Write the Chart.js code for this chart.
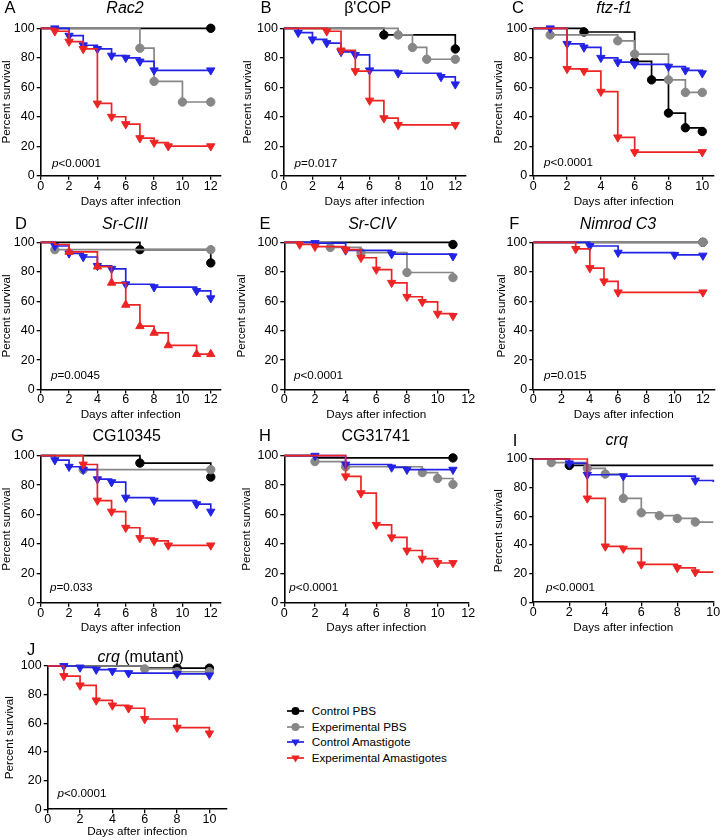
<!DOCTYPE html>
<html>
<head>
<meta charset="utf-8">
<script src="https://cdn.jsdelivr.net/npm/chart.js@4.4.1/dist/chart.umd.min.js"></script>
<style>
  html, body { margin:0; padding:0; background:#fff; }
  #wrap { position:relative; width:720px; height:840px; overflow:hidden; background:#fff; }
  canvas { position:absolute; }
  .lg { position:absolute; font-family:"Liberation Sans", Arial, sans-serif; font-size:11.7px; color:#000; white-space:nowrap; line-height:14px; }
  .lgs { position:absolute; }
</style>
</head>
<body>
<div id="wrap"></div>
<script>
// ---------------- DATA (days, percent survival) ----------------
const seriesNames = ['Control PBS', 'Experimental PBS', 'Control Amastigote', 'Experimental Amastigotes'];
const xTicksStep = 2;
const yTicks = [0, 20, 40, 60, 80, 100];

// A  Rac2
const A_ctrlPBS = [[0,100],[12,100]];
const A_expPBS  = [[0,100],[7,86.5],[8,64],[10,50],[12,50]];
const A_ctrlAma = [[0,100],[1,100],[2,95],[3,88.5],[4,86],[5,81.5],[6,80],[7,77.5],[8,71.5],[12,71.5]];
const A_expAma  = [[0,100],[1,98],[2,91],[3,86],[4,49],[5,40],[6,35],[7,25.5],[8,22.5],[9,20],[12,20]];
// B  β'COP
const B_ctrlPBS = [[0,100],[7,95.5],[12,86]];
const B_expPBS  = [[0,100],[8,95.5],[9,87],[10,79],[12,79]];
const B_ctrlAma = [[0,100],[1,97],[2,92.5],[3,90],[4,84],[5,82],[6,71.5],[8,69.5],[11,67],[12,62]];
const B_expAma  = [[0,100],[3,98],[4,85],[5,71],[6,51],[7,39],[8,34.5],[12,34.5]];
// C  ftz-f1
const C_ctrlPBS = [[0,100],[3,97.5],[6,77.5],[7,65],[8,42.5],[9,32.5],[10,30]];
const C_expPBS  = [[0,100],[1,95.5],[5,91.5],[6,82.5],[8,65],[9,56.5],[10,56.5]];
const C_ctrlAma = [[0,100],[1,100],[2,89.5],[3,87],[4,80],[5,77],[6,75.5],[8,74],[9,71.5],[10,69.5]];
const C_expAma  = [[0,100],[2,72.5],[3,71],[4,57],[5,26],[6,16],[10,16]];
// D  Sr-CIII
const D_ctrlPBS = [[0,100],[7,95],[12,86]];
const D_expPBS  = [[0,100],[1,95],[12,95]];
const D_ctrlAma = [[0,100],[1,97.5],[2,92.5],[3,90],[4,84],[5,82],[6,71.5],[8,69.5],[11,67],[12,62]];
const D_expAma  = [[0,100],[1,98.5],[2,93.5],[4,83.5],[5,72.5],[6,57.5],[7,43],[8,38.5],[9,30],[11,24],[12,24]];
// E  Sr-CIV
const E_ctrlPBS = [[0,100],[11,98.5]];
const E_expPBS  = [[0,100],[3,96.5],[5,93],[8,79.5],[11,76]];
const E_ctrlAma = [[0,100],[2,99.5],[4,94.5],[7,92],[11,90.5]];
const E_expAma  = [[0,100],[1,98.5],[2,97],[4,95],[5,89.5],[6,81.5],[7,72.5],[8,63],[9,59.5],[10,51.5],[11,50]];
// F  Nimrod C3
const F_ctrlPBS = [[0,100],[12,100]];
const F_expPBS  = [[0,100],[12,100]];
const F_ctrlAma = [[0,100],[4,97.5],[6,93],[10,91.5],[12,91]];
const F_expAma  = [[0,100],[3,95.5],[4,82.5],[5,73.5],[6,66],[12,66]];
// G  CG10345
const G_ctrlPBS = [[0,100],[7,95],[12,85.5]];
const G_expPBS  = [[0,100],[3,90.5],[12,90.5]];
const G_ctrlAma = [[0,100],[1,97],[2,92.5],[3,90.5],[4,84],[5,82],[6,71.5],[8,69.5],[11,67],[12,62]];
const G_expAma  = [[0,100],[3,94],[4,69.5],[5,62],[6,51],[7,44],[8,42],[9,39],[12,39]];
// H  CG31741
const H_ctrlPBS = [[0,100],[2,98.5],[11,98.5]];
const H_expPBS  = [[0,100],[2,96],[4,92.5],[9,88.5],[10,84.5],[11,80.5]];
const H_ctrlAma = [[0,100],[2,100],[4,94],[7,92],[8,90.5],[11,90.5]];
const H_expAma  = [[0,100],[4,86],[5,74.5],[6,53],[7,44.5],[8,35.5],[9,30],[10,27],[11,27]];
// I  crq
const I_ctrlPBS = [[0,100],[2,95.5],[10,95.5]];
const I_expPBS  = [[0,100],[1,97.5],[3,93.5],[4,89.5],[5,72.5],[6,62.5],[7,60.5],[8,58.5],[9,56],[10,56]];
const I_ctrlAma = [[0,100],[2,97],[3,89],[5,88],[9,85],[10,84]];
const I_expAma  = [[0,100],[3,72.5],[4,39],[5,37.5],[6,26.5],[8,24],[9,21],[10,21]];
// J  crq (mutant)
const J_ctrlPBS = [[0,100],[6,98.5],[8,98.5],[10,98.5]];
const J_expPBS  = [[0,100],[6,98],[8,96],[10,96]];
const J_ctrlAma = [[0,100],[1,100],[2,99],[3,97.5],[4,96.5],[5,95],[8,94.5],[10,93.5]];
const J_expAma  = [[0,100],[1,93],[2,86.5],[3,76],[4,72.5],[5,70.5],[6,63],[8,57],[10,53]];

const pValues = { A:'<0.0001', B:'=0.017', C:'<0.0001', D:'=0.0045', E:'<0.0001', F:'=0.015', G:'=0.033', H:'<0.0001', I:'<0.0001', J:'<0.0001' };

// ---------------- STYLE / LAYOUT ----------------
const FONT = '"Liberation Sans", Arial, Helvetica, sans-serif';
Chart.defaults.font.family = FONT;
Chart.defaults.color = '#000';
const COLORS = ['#000000', '#878787', '#2323e6', '#ee2424'];

// hidden markers (series index -> data indices)
const hideMarks = { D:{3:[1]}, H:{0:[1]}, I:{0:[2],1:[9],2:[5],3:[7]}, J:{0:[1]} };

const panels = [
  { id:'A', data:[A_ctrlPBS,A_expPBS,A_ctrlAma,A_expAma], title:[['Rac2',true]],
    cl:0, ct:0, cr:235, cb:208.6, pl:40.7, pt:28.3, pr:220.7, pb:175.7, xmax:12.7, xtMax:12,
    letter:[10,8], titleXY:[125,8.5], pOff:[11.3,11.7] },
  { id:'B', data:[B_ctrlPBS,B_expPBS,B_ctrlAma,B_expAma], title:[["β'COP",false]],
    cl:241.4, ct:0, cr:478, cb:208.6, pl:284.3, pt:28.3, pr:465.7, pb:175.7, xmax:12.7, xtMax:12,
    letter:[266.5,8], titleXY:[368,8.5], pOff:[10.7,11.7] },
  { id:'C', data:[C_ctrlPBS,C_expPBS,C_ctrlAma,C_expAma], title:[['ftz-f1',true]],
    cl:492, ct:0, cr:720, cb:208.6, pl:533.3, pt:28.3, pr:714.1, pb:175.7, xmax:10.7, xtMax:10,
    letter:[518,8], titleXY:[614,8.5], pOff:[10.7,12.7] },
  { id:'D', data:[D_ctrlPBS,D_expPBS,D_ctrlAma,D_expAma], title:[['Sr-CIII',true]], upRed:true,
    cl:0, ct:212, cr:235, cb:421.9, pl:40.7, pt:242.3, pr:220.7, pb:389.5, xmax:12.7, xtMax:12,
    letter:[21,224.5], titleXY:[125,225], pOff:[10.3,13.5] },
  { id:'E', data:[E_ctrlPBS,E_expPBS,E_ctrlAma,E_expAma], title:[['Sr-CIV',true]],
    cl:235, ct:212, cr:485, cb:421.9, pl:284.3, pt:242.3, pr:468.3, pb:389.5, xmax:12, xtMax:12,
    letter:[265,224.5], titleXY:[372,225], pOff:[9.7,13.5] },
  { id:'F', data:[F_ctrlPBS,F_expPBS,F_ctrlAma,F_expAma], title:[['Nimrod C3',true]],
    cl:495, ct:212, cr:720, cb:421.9, pl:533.3, pt:242.3, pr:714.7, pb:389.5, xmax:12.8, xtMax:12,
    letter:[514.3,224.5], titleXY:[618,225], pOff:[10.7,13.5] },
  { id:'G', data:[G_ctrlPBS,G_expPBS,G_ctrlAma,G_expAma], title:[['CG10345',false]],
    cl:0, ct:425, cr:235, cb:635.2, pl:40.7, pt:455.7, pr:220.7, pb:602.7, xmax:12.7, xtMax:12,
    letter:[17.5,436.7], titleXY:[126.7,437], pOff:[9.3,14.7] },
  { id:'H', data:[H_ctrlPBS,H_expPBS,H_ctrlAma,H_expAma], title:[['CG31741',false]],
    cl:240, ct:425, cr:485, cb:635.2, pl:284.3, pt:455.7, pr:468.3, pb:602.7, xmax:12, xtMax:12,
    letter:[265,436.7], titleXY:[375.8,437], pOff:[5,14.7] },
  { id:'I', data:[I_ctrlPBS,I_expPBS,I_ctrlAma,I_expAma], title:[['crq',true]],
    cl:492, ct:425, cr:720, cb:635.2, pl:533.3, pt:459, pr:713.3, pb:602.3, xmax:10, xtMax:10,
    letter:[515,441.5], titleXY:[616.7,441], pOff:[12.7,14.3] },
  { id:'J', data:[J_ctrlPBS,J_expPBS,J_ctrlAma,J_expAma], title:[['crq',true],[' (mutant)',false]],
    cl:3, ct:638, cr:240, cb:838.6, pl:47.7, pt:666, pr:226.7, pb:809.3, xmax:11.07, xtMax:10,
    letter:[31,650], titleXY:[140.7,657.5], pOff:[9.7,16] }
];

const panelText = {
  id:'panelText',
  afterDraw(chart, args, o) {
    const ctx = chart.ctx; const p = o.p;
    ctx.save();
    ctx.fillStyle = '#000';
    ctx.textBaseline = 'middle';
    // letter
    ctx.font = '16.5px ' + FONT;
    ctx.textAlign = 'center';
    ctx.fillText(p.id, p.letter[0] - p.cl, p.letter[1] - p.ct);
    // title
    ctx.textAlign = 'left';
    let total = 0;
    const widths = p.title.map(([t, it]) => { ctx.font = (it ? 'italic ' : '') + '16px ' + FONT; const w = ctx.measureText(t).width; total += w; return w; });
    let x = p.titleXY[0] - p.cl - total / 2;
    p.title.forEach(([t, it], i) => { ctx.font = (it ? 'italic ' : '') + '16px ' + FONT; ctx.fillText(t, x, p.titleXY[1] - p.ct); x += widths[i]; });
    // p-value
    const a = chart.chartArea;
    let px = a.left + p.pOff[0], py = a.bottom - p.pOff[1];
    ctx.font = 'italic 11.7px ' + FONT;
    ctx.fillText('p', px, py);
    px += ctx.measureText('p').width;
    ctx.font = '11.7px ' + FONT;
    ctx.fillText(pValues[p.id], px, py);
    ctx.restore();
  }
};

const wrap = document.getElementById('wrap');

panels.forEach(p => {
  const w = p.cr - p.cl, h = p.cb - p.ct;
  const W = Math.round(w), H = Math.round(h);
  const cv = document.createElement('canvas');
  cv.width = W; cv.height = H;
  cv.style.left = p.cl + 'px'; cv.style.top = p.ct + 'px';
  cv.style.width = W + 'px'; cv.style.height = H + 'px';
  wrap.appendChild(cv);
  const hide = hideMarks[p.id] || {};
  const datasets = p.data.map((arr, si) => {
    const tri = si >= 2;
    const up = (si === 3 && p.upRed);
    return {
      label: seriesNames[si],
      data: arr.map(([x, y]) => ({ x, y })),
      borderColor: COLORS[si],
      backgroundColor: COLORS[si],
      pointBackgroundColor: COLORS[si],
      pointBorderColor: COLORS[si],
      borderWidth: 1.7,
      pointBorderWidth: 1,
      pointStyle: tri ? 'triangle' : 'circle',
      rotation: tri && !up ? 180 : 0,
      pointRadius: (c) => (c.dataIndex === 0 || (hide[si] || []).includes(c.dataIndex)) ? 0 : (tri ? 4.8 : 4.2),
      stepped: 'before',
      fill: false,
      clip: false,
      order: 4 - si,
      borderCapStyle: 'butt',
      borderJoinStyle: 'miter'
    };
  });
  new Chart(cv, {
    type: 'line',
    data: { datasets },
    options: {
      responsive: false,
      animation: false,
      devicePixelRatio: 1,
      events: [],
      layout: { padding: { top: p.pt - p.ct, right: W - (p.pr - p.cl), left: 0, bottom: 0 } },
      plugins: { legend: { display: false }, tooltip: { enabled: false }, panelText: { p } },
      scales: {
        x: {
          type: 'linear', min: 0, max: p.xmax,
          afterFit: (s) => { s.height = H - (p.pb - p.ct); },
          afterBuildTicks: (s) => { s.ticks = s.ticks.filter(t => t.value <= p.xtMax + 1e-6 && Math.abs(t.value / xTicksStep - Math.round(t.value / xTicksStep)) < 1e-6); },
          ticks: { stepSize: xTicksStep, includeBounds: false, padding: -1, color: '#000', font: { size: 12.5 }, maxRotation: 0, autoSkip: false },
          grid: { display: true, drawOnChartArea: false, drawTicks: true, tickLength: 4, color: '#000', lineWidth: 1.3 },
          border: { display: true, color: '#000', width: 1.6 },
          title: { display: true, text: 'Days after infection', color: '#000', font: { size: 11.7, lineHeight: 1.2 }, padding: { top: 0, bottom: 0 } }
        },
        y: {
          type: 'linear', min: 0, max: 100,
          afterFit: (s) => { s.width = p.pl - p.cl; },
          afterBuildTicks: (s) => { s.ticks = yTicks.map(v => ({ value: v })); },
          ticks: { stepSize: 20, padding: 2, color: '#000', font: { size: 12.5 } },
          grid: { display: true, drawOnChartArea: false, drawTicks: true, tickLength: 4, color: '#000', lineWidth: 1.3 },
          border: { display: true, color: '#000', width: 1.6 },
          title: { display: true, text: 'Percent survival', color: '#000', font: { size: 11.7, lineHeight: 1.2 }, padding: { top: 0, bottom: 0 } }
        }
      }
    },
    plugins: [panelText]
  });
});

// ---------------- LEGEND ----------------
const legendRows = [710.7, 726.7, 742.2, 758];
seriesNames.forEach((name, i) => {
  const cy = legendRows[i];
  const ns = 'http://www.w3.org/2000/svg';
  const svg = document.createElementNS(ns, 'svg');
  svg.setAttribute('width', '20'); svg.setAttribute('height', '12');
  svg.setAttribute('class', 'lgs');
  svg.style.left = '286px'; svg.style.top = (cy - 6) + 'px';
  const ln = document.createElementNS(ns, 'line');
  ln.setAttribute('x1', '1'); ln.setAttribute('x2', '18'); ln.setAttribute('y1', '6'); ln.setAttribute('y2', '6');
  ln.setAttribute('stroke', COLORS[i]); ln.setAttribute('stroke-width', '1.7');
  svg.appendChild(ln);
  let m;
  if (i < 2) {
    m = document.createElementNS(ns, 'circle');
    m.setAttribute('cx', '9.5'); m.setAttribute('cy', '6'); m.setAttribute('r', '4');
  } else {
    m = document.createElementNS(ns, 'polygon');
    m.setAttribute('points', '5.3,3.6 13.7,3.6 9.5,10.6');
  }
  m.setAttribute('fill', COLORS[i]);
  svg.appendChild(m);
  wrap.appendChild(svg);
  const t = document.createElement('div');
  t.className = 'lg';
  t.textContent = name;
  t.style.left = '311.7px'; t.style.top = (cy - 7) + 'px';
  wrap.appendChild(t);
});
</script>
</body>
</html>
